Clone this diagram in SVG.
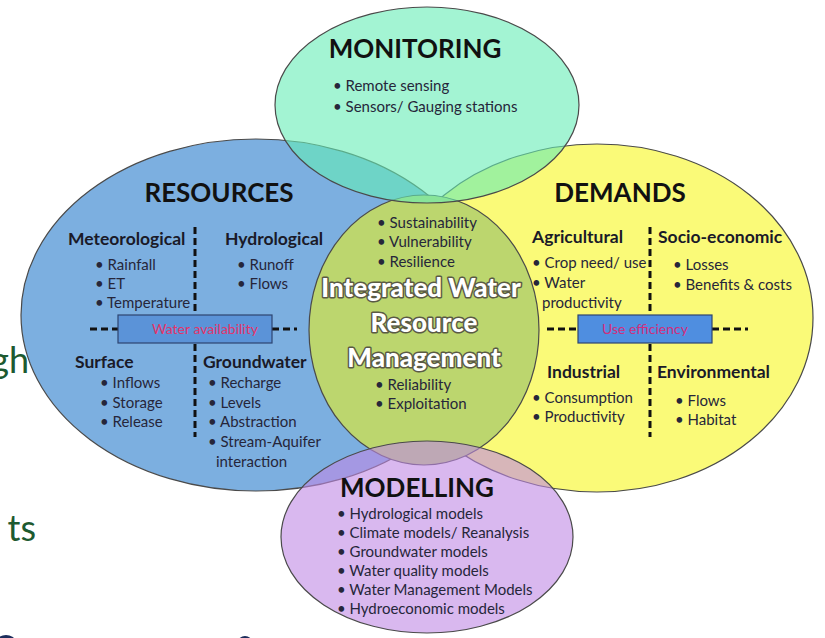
<svg xmlns="http://www.w3.org/2000/svg" width="825" height="638" viewBox="0 0 825 638">
<style>
.ell{stroke:#4a4a4a;stroke-width:1.2}
.t{font-family:Lato,"Liberation Sans",sans-serif;font-size:15px;fill:#26263a}
.h{font-family:Lato,"Liberation Sans",sans-serif;font-size:17.5px;font-weight:bold;fill:#1a1a28}
.ti{font-family:Lato,"Liberation Sans",sans-serif;font-size:26px;font-weight:bold;fill:#111;text-anchor:middle}
.iw{font-family:Lato,"Liberation Sans",sans-serif;font-size:26px;font-weight:900;fill:#fff;stroke:#5a5a45;stroke-width:3;paint-order:stroke;text-anchor:middle;stroke-linejoin:round}
.dash{stroke:#111;stroke-width:3;stroke-dasharray:7 4;fill:none}
.bx{stroke:#2d4470;stroke-width:1.2}
.bt{font-family:Lato,"Liberation Sans",sans-serif;font-size:14px;text-anchor:middle}
.side{font-family:Lato,"Open Sans",sans-serif;font-size:36px;fill:#1d5a30;text-anchor:end}
</style>
<rect width="825" height="638" fill="#fff"/>
<text class="side" x="29" y="373">gh</text>
<text class="side" x="36" y="541">ts</text>
<ellipse cx="6" cy="641" rx="9" ry="6" fill="#1c2d5c"/>
<ellipse cx="245" cy="642" rx="7" ry="6" fill="#1c2d5c"/>

<g id="resources">
<ellipse class="ell" cx="256" cy="315" rx="235" ry="176" fill="#7cafe0"/>
<text class="ti" x="219" y="202">RESOURCES</text>
<text class="h" x="68" y="245">Meteorological</text>
<text class="h" x="225" y="245">Hydrological</text>
<text class="t" x="95" y="270">• Rainfall</text>
<text class="t" x="95" y="289">• ET</text>
<text class="t" x="95" y="308">• Temperature</text>
<text class="t" x="237" y="270">• Runoff</text>
<text class="t" x="237" y="289">• Flows</text>
<path class="dash" d="M195 227V314M195 344V437M90 329H118M272 329H297"/>
<rect class="bx" x="118" y="315" width="154" height="28" fill="#5b93d8"/>
<text class="bt" x="205" y="334" fill="#e4336a">Water availability</text>
<text class="h" x="75" y="368">Surface</text>
<text class="t" x="100" y="388">• Inflows</text>
<text class="t" x="100" y="408">• Storage</text>
<text class="t" x="100" y="427">• Release</text>
<text class="h" x="203" y="368">Groundwater</text>
<text class="t" x="208" y="388">• Recharge</text>
<text class="t" x="208" y="408">• Levels</text>
<text class="t" x="208" y="427">• Abstraction</text>
<text class="t" x="208" y="447">• Stream-Aquifer</text>
<text class="t" x="216" y="467">interaction</text>
</g>

<g id="demands">
<ellipse class="ell" cx="597" cy="318" rx="216" ry="174" fill="#fafa78"/>
<text class="ti" x="620" y="202">DEMANDS</text>
<text class="h" x="532" y="243">Agricultural</text>
<text class="h" x="658" y="243">Socio-economic</text>
<text class="t" x="532" y="268">• Crop need/ use</text>
<text class="t" x="532" y="288">• Water</text>
<text class="t" x="542" y="308">productivity</text>
<text class="t" x="673" y="270">• Losses</text>
<text class="t" x="673" y="290">• Benefits &amp; costs</text>
<path class="dash" d="M650 227V315M650 344V437M547 329H578M712 329H748"/>
<rect class="bx" x="578" y="315" width="134" height="28" fill="#4f8ee0"/>
<text class="bt" x="645" y="334" fill="#d22d7c">Use efficiency</text>
<text class="h" x="547" y="378">Industrial</text>
<text class="h" x="657" y="378">Environmental</text>
<text class="t" x="532" y="403">• Consumption</text>
<text class="t" x="532" y="422">• Productivity</text>
<text class="t" x="675" y="406">• Flows</text>
<text class="t" x="675" y="425">• Habitat</text>
</g>

<g id="iwrm">
<ellipse class="ell" cx="424" cy="330" rx="115" ry="135" fill="#bcd66e"/>
<text class="t" x="377" y="228">• Sustainability</text>
<text class="t" x="377" y="247">• Vulnerability</text>
<text class="t" x="377" y="267">• Resilience</text>
<text class="iw" x="421" y="297">Integrated Water</text>
<text class="iw" x="424" y="332">Resource</text>
<text class="iw" x="424" y="367">Management</text>
<text class="t" x="375" y="390">• Reliability</text>
<text class="t" x="375" y="409">• Exploitation</text>
</g>

<g id="monitoring">
<ellipse class="ell" cx="427" cy="105" rx="152" ry="98" fill="#66edb6" fill-opacity="0.6"/>
<text class="ti" x="415" y="58">MONITORING</text>
<text class="t" x="333" y="91">• Remote sensing</text>
<text class="t" x="333" y="112">• Sensors/ Gauging stations</text>
</g>

<g id="modelling">
<ellipse class="ell" cx="427" cy="537" rx="146" ry="96" fill="#c089e4" fill-opacity="0.6"/>
<text class="ti" x="417" y="497">MODELLING</text>
<text class="t" x="337" y="519">• Hydrological models</text>
<text class="t" x="337" y="538">• Climate models/ Reanalysis</text>
<text class="t" x="337" y="557">• Groundwater models</text>
<text class="t" x="337" y="576">• Water quality models</text>
<text class="t" x="337" y="595">• Water Management Models</text>
<text class="t" x="337" y="614">• Hydroeconomic models</text>
</g>

<g id="connectors"></g>
</svg>
